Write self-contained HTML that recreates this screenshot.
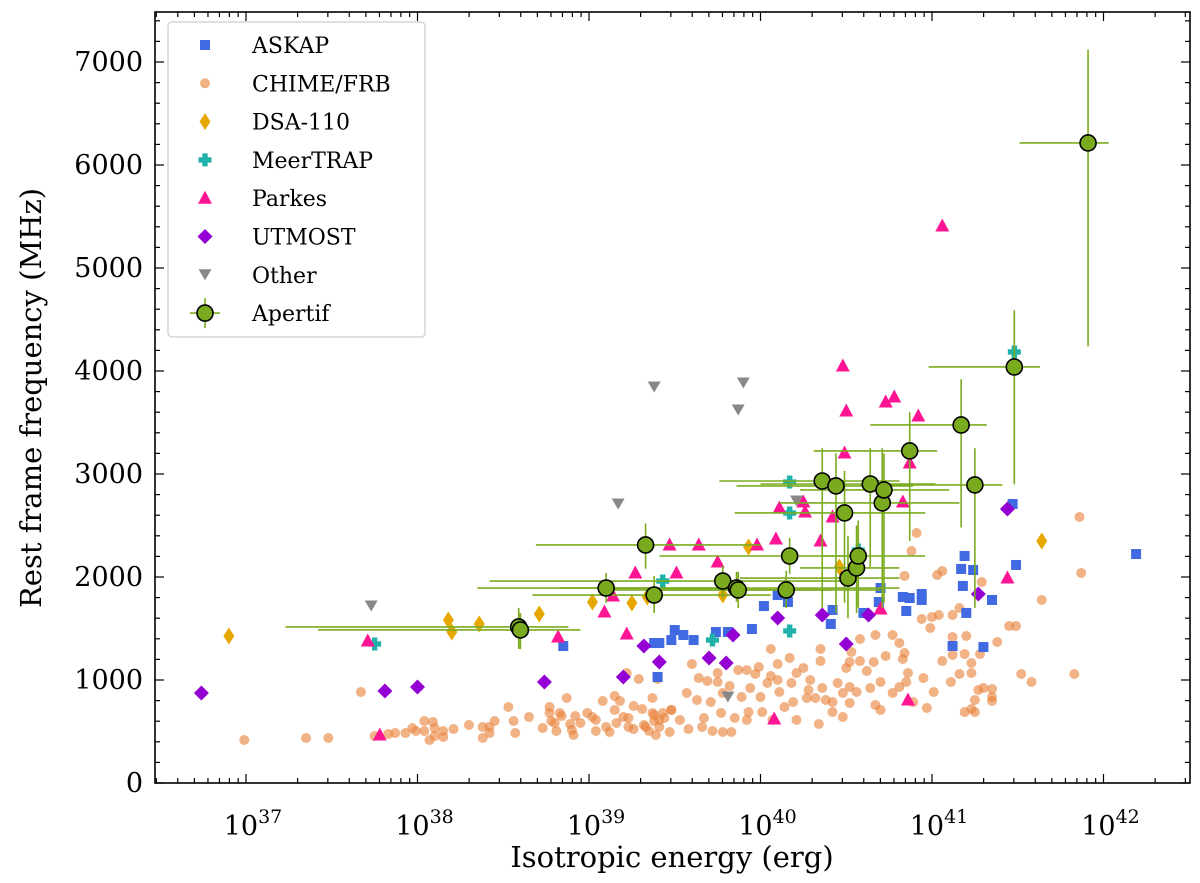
<!DOCTYPE html>
<html><head><meta charset="utf-8"><style>
html,body{margin:0;padding:0;background:#fff;}
svg{display:block;font-family:"DejaVu Serif","Liberation Serif",serif;}
</style></head><body>
<svg id="chart" width="1200" height="883" viewBox="0 0 1200 883" xmlns="http://www.w3.org/2000/svg">
<g id="marks"></g>
<g id="axes"></g>
<g id="legend"></g>
</svg>
<script>
const xTickExps = [37,38,39,40,41,42];
const yTicks = [0,1000,2000,3000,4000,5000,6000,7000];
const askap = [[39.41,1359],[39.50,1485],[39.55,1437],[39.48,1388],[39.61,1388],[39.74,1466],[39.81,1466],[39.95,1495],[40.02,1718],[40.10,1825],[40.16,1757],[40.42,1680],[40.41,1544],[40.60,1651],[40.70,1893],[40.69,1757],[40.83,1806],[40.87,1796],[40.94,1835],[40.94,1777],[40.85,1670],[41.19,2204],[41.17,2078],[41.24,2068],[41.18,1913],[41.20,1651],[41.35,1777],[41.49,2117],[41.12,1330],[41.30,1320],[41.47,2709],[42.19,2223],[38.85,1330],[39.38,1359],[39.40,1029]];
const chime = [[36.99,417],[37.35,437],[37.48,437],[37.67,884],[37.75,456],[37.83,476],[37.87,485],[37.93,485],[37.97,534],[37.99,505],[38.04,602],[38.04,505],[38.09,592],[38.10,534],[38.10,456],[38.07,417],[38.15,505],[38.15,447],[38.21,524],[38.30,563],[38.38,544],[38.38,437],[38.42,544],[38.42,485],[38.45,602],[38.53,738],[38.56,602],[38.57,485],[38.65,641],[38.73,534],[38.77,738],[38.77,680],[38.78,602],[38.80,583],[38.81,505],[38.83,680],[38.84,650],[38.87,825],[38.89,573],[38.90,515],[38.91,466],[38.92,650],[38.95,583],[38.99,680],[39.02,641],[39.04,612],[39.04,505],[39.08,796],[39.10,544],[39.12,495],[39.15,845],[39.15,709],[39.16,583],[39.18,796],[39.20,641],[39.23,631],[39.23,544],[39.26,748],[39.26,524],[39.29,1010],[39.31,718],[39.32,563],[39.33,544],[39.35,505],[39.37,680],[39.37,825],[39.38,602],[39.39,466],[39.41,544],[39.44,631],[39.47,495],[39.48,709],[39.40,1010],[39.22,1068],[39.38,660],[39.48,709],[39.41,612],[39.43,680],[39.53,612],[39.57,874],[39.58,524],[39.60,1155],[39.63,806],[39.64,1019],[39.66,544],[39.67,631],[39.69,990],[39.71,786],[39.72,505],[39.75,1068],[39.75,981],[39.78,495],[39.77,680],[39.78,874],[39.82,942],[39.83,495],[39.85,631],[39.87,1097],[39.89,835],[39.92,1097],[39.93,689],[39.92,612],[39.94,922],[39.97,1058],[39.99,1126],[40.00,835],[40.01,689],[40.04,971],[40.06,1301],[40.06,1039],[40.07,612],[40.10,1155],[40.10,1000],[40.11,884],[40.14,738],[40.17,1214],[40.18,971],[40.19,786],[40.21,612],[40.21,1068],[40.25,1117],[40.27,825],[40.28,903],[40.29,1000],[40.32,825],[40.34,573],[40.35,1301],[40.35,1184],[40.36,922],[40.38,806],[40.42,689],[40.42,786],[40.45,971],[40.48,874],[40.48,641],[40.50,1117],[40.52,932],[40.52,777],[40.52,1175],[40.53,1272],[40.56,884],[40.58,1184],[40.58,1398],[40.62,1087],[40.64,922],[40.66,1175],[40.67,757],[40.67,1437],[40.70,709],[40.70,981],[40.73,1233],[40.77,1437],[40.77,874],[40.81,1359],[40.81,932],[40.83,1204],[40.84,1262],[40.85,981],[40.86,1068],[40.88,2252],[40.91,2427],[40.84,2010],[40.89,786],[40.95,1019],[40.97,728],[41.01,884],[40.94,1592],[40.99,1505],[41.00,1612],[41.04,1631],[41.03,2019],[41.06,2058],[41.06,1184],[41.11,981],[41.12,1631],[41.12,1418],[41.12,1243],[41.16,1699],[41.16,1058],[41.19,689],[41.19,1252],[41.20,1427],[41.23,1165],[41.23,1068],[41.25,806],[41.23,718],[41.25,689],[41.27,903],[41.28,1252],[41.29,1951],[41.30,922],[41.35,913],[41.35,835],[41.35,796],[41.38,1369],[41.45,1524],[41.49,1524],[41.52,1058],[41.58,981],[41.64,1777],[41.83,1058],[41.86,2583],[41.87,2039]];
const dsa = [[36.90,1427],[38.18,1583],[38.20,1466],[38.36,1544],[38.71,1641],[39.02,1757],[39.25,1748],[39.34,1806],[39.93,2291],[39.78,1825],[40.46,2097],[41.64,2350]];
const meertrap = [[37.75,1350],[39.43,1961],[40.17,2621],[40.17,2922],[39.72,1388],[40.17,1476],[40.57,2262],[41.48,4185]];
const parkes = [[41.06,5408],[40.48,4049],[40.50,3612],[40.73,3699],[40.78,3748],[40.92,3563],[40.49,3204],[40.87,3107],[40.11,2670],[40.25,2728],[40.26,2631],[40.42,2583],[40.83,2728],[39.64,2311],[39.98,2311],[40.09,2369],[40.35,2350],[39.75,2146],[39.51,2039],[39.27,2039],[39.14,1816],[39.09,1660],[39.22,1447],[38.82,1418],[37.71,1379],[37.78,466],[40.70,1689],[41.44,1990],[40.86,806],[40.08,621],[39.47,2311]];
const utmost = [[36.74,874],[37.81,893],[38.00,932],[38.74,981],[39.20,1029],[39.32,1330],[39.41,1175],[39.70,1214],[39.80,1165],[39.84,1437],[40.10,1602],[40.36,1631],[40.50,1350],[40.63,1631],[41.27,1835],[41.44,2660]];
const other = [[37.73,1718],[39.17,2709],[39.38,3845],[39.90,3884],[39.87,3621],[40.21,2738],[39.81,835]];
const apE =   [38.59,38.60,39.10,39.33,39.38,39.78,39.86,39.87,40.15,40.17,40.36,40.44,40.49,40.51,40.56,40.57,40.64,40.71,40.72,40.87,41.17,41.25,41.48,41.91];
const apF =   [1515,1486,1893,2311,1825,1961,1893,1874,1874,2204,2932,2884,2622,1990,2088,2204,2903,2719,2845,3224,3476,2894,4039,6214];
const apElo = [37.23,37.42,38.35,38.69,38.67,38.42,38.83,39.12,39.41,39.41,39.76,39.86,39.85,39.88,40.23,40.35,40.00,40.11,40.23,40.31,40.64,40.58,40.98,41.51];
const apEhi = [38.88,38.95,39.88,40.00,40.06,40.55,40.81,40.41,40.70,40.58,40.81,40.89,40.96,40.81,40.81,40.96,41.02,41.16,41.10,41.03,41.32,41.41,41.63,42.03];
const apFlo = [1300,1300,1750,2080,1650,1800,1760,1700,1700,2030,1700,1650,1750,1600,1650,1700,2100,1700,1750,2350,2480,1700,2900,4240];
const apFhi = [1700,1650,2040,2520,2010,2110,2050,2050,2060,2380,3250,3200,3030,2400,2500,2550,3250,3250,3200,3600,3920,3250,4590,7120];

const NS='http://www.w3.org/2000/svg';
const X0=155,X1=1190,Y0=12,Y1=783;
function xs(le){return 246+(le-37)*171.5;}
function ys(f){return 783-f*0.103;}
function mk(tag,attrs,parent){const e=document.createElementNS(NS,tag);for(const k in attrs)e.setAttribute(k,attrs[k]);parent.appendChild(e);return e;}
const marks=document.getElementById('marks');
const axes=document.getElementById('axes');
const legend=document.getElementById('legend');

function shape(kind,x,y,parent){
  let e;
  if(kind==='square'){e=mk('rect',{x:x-5,y:y-5,width:10,height:10,fill:'#4169e1'},parent);}
  else if(kind==='circle'){e=mk('circle',{cx:x,cy:y,r:5,fill:'#e8823c','fill-opacity':0.62},parent);}
  else if(kind==='thin'){e=mk('polygon',{points:`${x},${y-8.5} ${x+5.5},${y} ${x},${y+8.5} ${x-5.5},${y}`,fill:'#e6a700'},parent);}
  else if(kind==='cross'){e=mk('path',{d:`M${x-2.7},${y-6.5}h5.4v3.8h3.8v5.4h-3.8v3.8h-5.4v-3.8h-3.8v-5.4h3.8z`,fill:'#20b2aa'},parent);}
  else if(kind==='tri'){e=mk('polygon',{points:`${x},${y-7.5} ${x+7},${y+5.5} ${x-7},${y+5.5}`,fill:'#ff1493'},parent);}
  else if(kind==='diamond'){e=mk('polygon',{points:`${x},${y-7.5} ${x+7.5},${y} ${x},${y+7.5} ${x-7.5},${y}`,fill:'#9400d3'},parent);}
  else if(kind==='down'){e=mk('polygon',{points:`${x},${y+5.5} ${x+6.5},${y-5.5} ${x-6.5},${y-5.5}`,fill:'#888888'},parent);}
  return e;
}
const series=[['chime',chime,'circle','CHIME/FRB'],['askap',askap,'square','ASKAP'],['dsa',dsa,'thin','DSA-110'],['meertrap',meertrap,'cross','MeerTRAP'],['parkes',parkes,'tri','Parkes'],['utmost',utmost,'diamond','UTMOST'],['other',other,'down','Other']];
series.forEach(s=>{
  const g=mk('g',{},marks);
  
  
  s[1].forEach(p=>{
    const e=shape(s[2],xs(p[0]),ys(p[1]),g);
    
    
  });
});
const ag=mk('g',{},marks);


for(let i=0;i<apE.length;i++){
  const x=xs(apE[i]),y=ys(apF[i]);
  const h=mk('line',{x1:xs(apElo[i]),x2:xs(apEhi[i]),y1:y,y2:y,stroke:'#7aab1e','stroke-width':1.6},ag);
  
  
  const v=mk('line',{x1:x,x2:x,y1:ys(apFlo[i]),y2:ys(apFhi[i]),stroke:'#7aab1e','stroke-width':1.6},ag);
  
  
}
for(let i=0;i<apE.length;i++){
  const c=mk('circle',{cx:xs(apE[i]),cy:ys(apF[i]),r:8,fill:'#7aab1e',stroke:'#000','stroke-width':1.6},ag);
  
  
}
const fr=mk('rect',{x:X0,y:Y0,width:X1-X0,height:Y1-Y0,fill:'none',stroke:'#000','stroke-width':1.6},axes);


for(let e=36;e<=42;e++){
  for(let m=1;m<10;m++){
    const x=xs(e+Math.log10(m));
    if(x<X0||x>X1)continue;
    const L=m===1?9:5;
    mk('line',{x1:x,x2:x,y1:Y1,y2:Y1-L,stroke:'#000','stroke-width':1.2},axes);
    mk('line',{x1:x,x2:x,y1:Y0,y2:Y0+L,stroke:'#000','stroke-width':1.2},axes);
  }
}
xTickExps.forEach(e=>{
  const t=mk('text',{x:xs(e)+7,y:835,'font-size':27,'text-anchor':'middle'},axes);
  
  
  t.textContent='10';
  const s=mk('tspan',{dy:-12,'font-size':19},t);
  s.textContent=String(e);
});
for(let f=0;f<=7400;f+=200){
  const y=ys(f);if(y<Y0)continue;
  const L=f%1000===0?9:5;
  mk('line',{x1:X0,x2:X0+L,y1:y,y2:y,stroke:'#000','stroke-width':1.2},axes);
  mk('line',{x1:X1,x2:X1-L,y1:y,y2:y,stroke:'#000','stroke-width':1.2},axes);
}
yTicks.forEach(f=>{
  const t=mk('text',{x:143,y:ys(f)+9,'font-size':27,'text-anchor':'end'},axes);
  
  
  t.textContent=String(f);
});
const xt=mk('text',{x:672,y:867,'font-size':29,'text-anchor':'middle'},axes);


xt.textContent='Isotropic energy (erg)';
const yt=mk('text',{x:0,y:0,'font-size':29,'text-anchor':'middle',transform:'translate(41,398) rotate(-90)'},axes);


yt.textContent='Rest frame frequency (MHz)';
const lb=mk('rect',{x:168,y:22,width:257,height:315,rx:4,fill:'#fff','fill-opacity':0.85,stroke:'#cccccc','stroke-width':1.2},legend);


const legOrder=[['askap','square','ASKAP'],['chime','circle','CHIME/FRB'],['dsa','thin','DSA-110'],['meertrap','cross','MeerTRAP'],['parkes','tri','Parkes'],['utmost','diamond','UTMOST'],['other','down','Other']];
legOrder.forEach((l,i)=>{
  const y=45+38.3*i;
  const g=mk('g',{},legend);
  
  
  shape(l[1],205,y,g);
  const t=mk('text',{x:252,y:y+8,'font-size':22},g);
  t.textContent=l[2];
});
{
  const y=45+38.3*7;
  const g=mk('g',{},legend);
  
  
  mk('line',{x1:190,x2:220,y1:y,y2:y,stroke:'#7aab1e','stroke-width':1.6},g);
  mk('line',{x1:205,x2:205,y1:y-15,y2:y+15,stroke:'#7aab1e','stroke-width':1.6},g);
  mk('circle',{cx:205,cy:y,r:8,fill:'#7aab1e',stroke:'#000','stroke-width':1.6},g);
  const t=mk('text',{x:252,y:y+8,'font-size':22},g);
  t.textContent='Apertif';
}
</script>
</body></html>
